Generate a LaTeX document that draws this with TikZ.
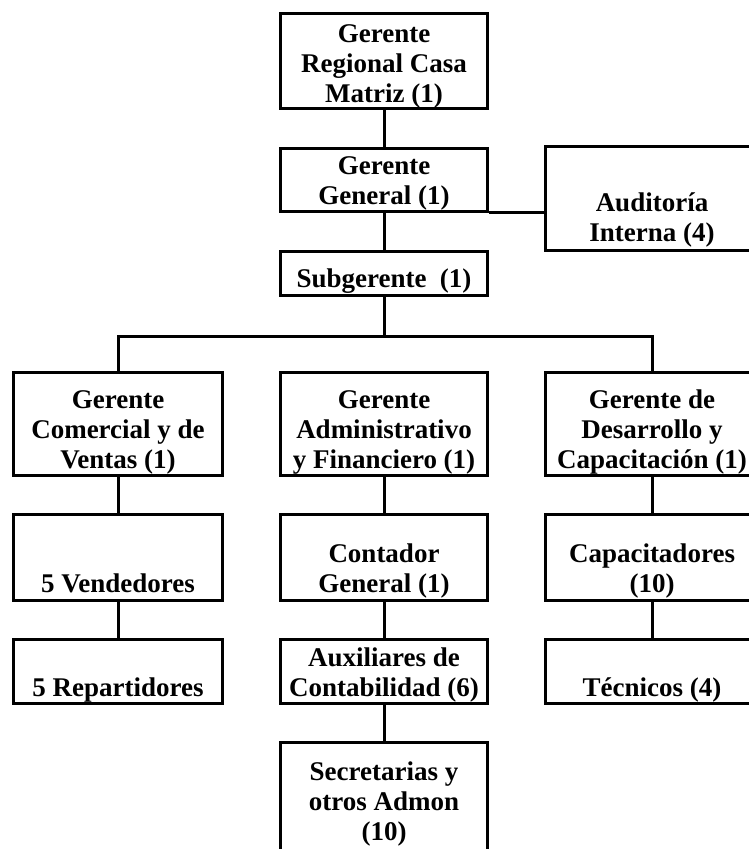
\documentclass[tikz,border=0pt]{standalone}
\usepackage{fontspec}
\setmainfont{Liberation Serif}
\tikzset{
  alto/.store in=\altocaja,
  ancho/.store in=\anchocaja,
  pie/.store in=\piecaja,
  alto=96pt, ancho=207pt, pie=7pt,
  caja/.style={draw=black,line width=3pt,inner sep=0pt,
    execute at begin node={\begin{minipage}[c][\altocaja][b]{\anchocaja}\centering\fontsize{27}{30}\selectfont\bfseries},
    execute at end node={\par\kern-\prevdepth\kern\piecaja\end{minipage}}},
  enlace/.style={draw=black,line width=3pt},
}

\begin{document}
\begin{tikzpicture}[x=1pt,y=-1pt]
  \useasboundingbox (0,0) rectangle (749,849);
  \clip (0,0) rectangle (749,849);
  % direccion
  \node[caja,alto=95pt,pie=6pt] (regional) at (384,60.5) {Gerente\\Regional Casa\\Matriz (1)};
  \node[caja,alto=63pt] (general) at (384,179.5) {Gerente\\General (1)};
  \node[caja,alto=104pt,ancho=214pt,pie=9pt] (auditoria) at (652,198) {Auditoría\\Interna (4)};
  \node[caja,alto=44pt,pie=8pt] (subgerente) at (384,273) {Subgerente~~(1)};
  % gerencias
  \node[caja,alto=103pt,ancho=209pt] (comercial) at (118,423.5) {Gerente\\Comercial y de\\Ventas (1)};
  \node[caja,alto=103pt] (administrativo) at (384,423.5) {Gerente\\Administrativo\\y Financiero (1)};
  \node[caja,alto=103pt,ancho=214pt] (desarrollo) at (652,423.5) {Gerente de\\Desarrollo y\\Capacitación (1)};
  % personal
  \node[caja,alto=86pt,ancho=209pt,pie=8pt] (vendedores) at (118,557) {5 Vendedores};
  \node[caja,alto=64pt,ancho=209pt,pie=7pt] (repartidores) at (118,671) {5 Repartidores};
  \node[caja,alto=86pt,pie=8pt] (contador) at (384,557) {Contador\\General (1)};
  \node[caja,alto=64pt,pie=7pt] (auxiliares) at (384,671) {Auxiliares de\\Contabilidad (6)};
  \node[caja,alto=120pt,pie=22pt] (secretarias) at (384,802) {Secretarias y\\otros Admon\\(10)};
  \node[caja,alto=86pt,ancho=214pt,pie=8pt] (capacitadores) at (652,557) {Capacitadores\\(10)};
  \node[caja,alto=64pt,ancho=214pt,pie=7pt] (tecnicos) at (652,671) {Técnicos (4)};
  % lineas
  \coordinate (barra) at (384,336);
  \draw[enlace] (regional) -- (general) -- (subgerente) -- (barra);
  \draw[enlace] (general.south east) -- (general.south east -| auditoria.west);
  \draw[enlace] (comercial) |- (barra) -| (desarrollo);
  \draw[enlace] (comercial) -- (vendedores) -- (repartidores);
  \draw[enlace] (administrativo) -- (contador) -- (auxiliares) -- (secretarias);
  \draw[enlace] (desarrollo) -- (capacitadores) -- (tecnicos);
\end{tikzpicture}
\end{document}
